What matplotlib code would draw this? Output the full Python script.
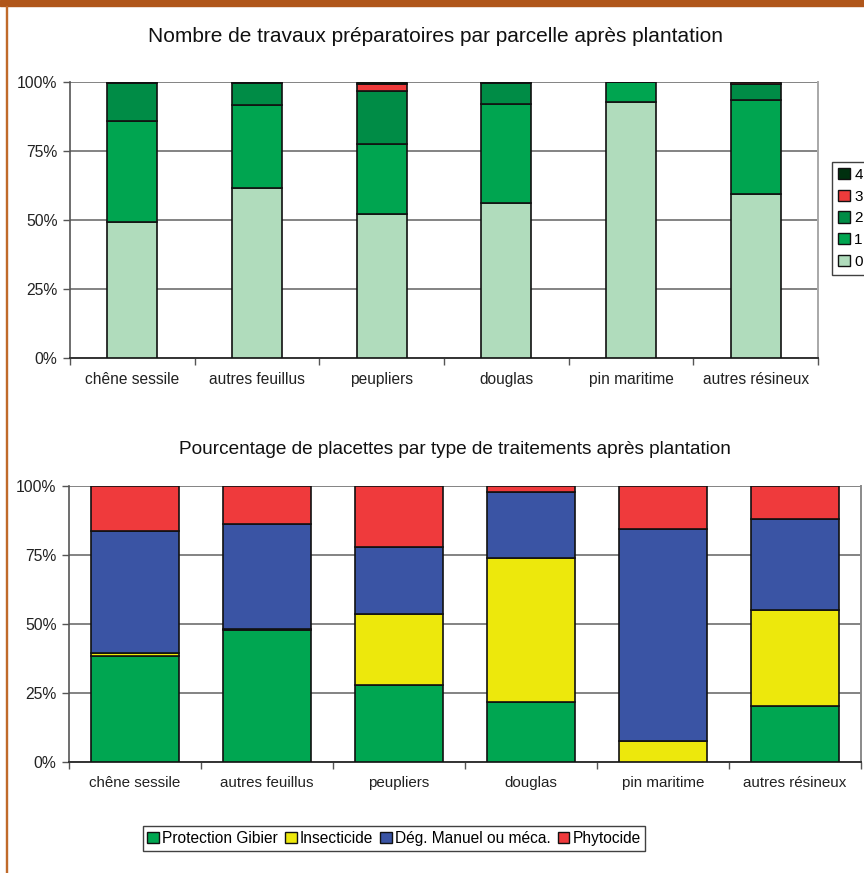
import numpy as np
import matplotlib.pyplot as plt
from matplotlib.patches import Patch, Rectangle

plt.rcParams['font.family'] = ['Liberation Sans', 'DejaVu Sans']

categories = ['chêne sessile', 'autres feuillus', 'peupliers', 'douglas',
              'pin maritime', 'autres résineux']

# nombre de travaux préparatoires (% de parcelles)
trav_labels = ['0', '1', '2', '3', '4']
trav_0 = [49.4, 61.6, 52.1, 56.2, 92.6, 59.4]
trav_1 = [36.5, 29.9, 25.5, 35.9, 7.4, 34.2]
trav_2 = [13.6, 8.2, 19.2, 7.6, 0.0, 5.7]
trav_3 = [0.5, 0.2, 2.5, 0.3, 0.0, 0.7]
trav_4 = [0.0, 0.1, 0.7, 0.0, 0.0, 0.0]
trav_colors = ['#b0dcbc', '#00a550', '#008c46', '#ee3b3b', '#00300f']

# types de traitements après plantation (% de placettes)
trait_labels = ['Protection Gibier', 'Insecticide', 'Dég. Manuel ou méca.', 'Phytocide']
trait_gibier = [38.4, 47.8, 28.0, 21.6, 0.0, 20.4]
trait_insect = [1.1, 0.5, 25.5, 52.2, 7.7, 34.7]
trait_deg = [44.3, 38.0, 24.4, 24.0, 76.8, 33.1]
trait_phyto = [16.2, 13.7, 22.1, 2.2, 15.5, 11.8]
trait_colors = ['#00a651', '#ede80c', '#3a54a4', '#ef3a3c']

W, H = 864, 873
fig = plt.figure(figsize=(W / 100, H / 100), dpi=100)

# cadre orange de la page
fig.patches.append(Rectangle((0, 1 - 6 / H), 1, 6 / H, transform=fig.transFigure,
                             color='#b0561a', zorder=0))
fig.patches.append(Rectangle((5.5 / W, 0), 1.3 / W, 1 - 6 / H, transform=fig.transFigure,
                             color='#c06a2a', zorder=0))


def style_axes(ax, right_color, cat_size):
    ax.set_ylim(0, 100)
    ax.set_xlim(-0.5, len(categories) - 0.5)
    ax.set_yticks([0, 25, 50, 75, 100])
    ax.set_yticklabels(['0%', '25%', '50%', '75%', '100%'], fontsize=11.3, color='#222222')
    ax.set_xticks(np.arange(len(categories)))
    ax.set_xticklabels(categories, fontsize=cat_size, color='#222222')
    ax.tick_params(axis='x', length=0, pad=10)
    ax.set_xticks(np.arange(len(categories) + 1) - 0.5, minor=True)
    ax.tick_params(axis='x', which='minor', length=5, width=1, color='#555555', direction='out')
    ax.tick_params(axis='y', length=5, width=1, color='#555555', direction='out', pad=4)
    ax.grid(axis='y', color='#7a7a7a', linewidth=1.3)
    ax.set_axisbelow(True)
    ax.spines['top'].set_visible(False)
    ax.spines['left'].set_color('#555555')
    ax.spines['bottom'].set_color('#333333')
    ax.spines['left'].set_linewidth(1.2)
    ax.spines['bottom'].set_linewidth(1.4)
    ax.spines['right'].set_color(right_color)
    ax.spines['right'].set_linewidth(1.4)


def stacked(ax, series, colors, width):
    x = np.arange(len(categories))
    bottom = np.zeros(len(categories))
    for vals, col in zip(series, colors):
        vals = np.array(vals)
        ax.bar(x, vals, width, bottom=bottom, color=col, edgecolor='#111111',
               linewidth=1.2, zorder=3)
        bottom += vals


# graphique du haut
ax1 = fig.add_axes([70 / W, 1 - 358 / H, 748 / W, 276 / H])
style_axes(ax1, '#a8a8a8', 11.2)
stacked(ax1, [trav_0, trav_1, trav_2, trav_3, trav_4], trav_colors, 0.4)
fig.text(435 / W, 1 - 36 / H, 'Nombre de travaux préparatoires par parcelle après plantation',
         ha='center', va='center', fontsize=15, color='#111111')

h1 = [Patch(facecolor=c, edgecolor='#111111', linewidth=1) for c in trav_colors][::-1]
leg1 = fig.legend(h1, trav_labels[::-1], loc='upper left',
                  bbox_to_anchor=(832 / W, 1 - 162 / H), fontsize=11,
                  frameon=True, fancybox=False, edgecolor='#111111',
                  handlelength=0.75, handleheight=0.75, handletextpad=0.3,
                  labelspacing=0.5, borderpad=0.4, borderaxespad=0)
leg1.get_frame().set_linewidth(1)

# graphique du bas
ax2 = fig.add_axes([69 / W, 1 - 762 / H, 792 / W, 276 / H])
style_axes(ax2, '#8a8a8a', 10.9)
stacked(ax2, [trait_gibier, trait_insect, trait_deg, trait_phyto], trait_colors, 0.667)
fig.text(455 / W, 1 - 450 / H, 'Pourcentage de placettes par type de traitements après plantation',
         ha='center', va='center', fontsize=13.7, color='#111111')

h2 = [Patch(facecolor=c, edgecolor='#111111', linewidth=1) for c in trait_colors]
leg2 = fig.legend(h2, trait_labels, loc='center', ncol=4,
                  bbox_to_anchor=(394 / W, 1 - 838.5 / H), fontsize=11.2,
                  frameon=True, fancybox=False, edgecolor='#111111',
                  handlelength=0.75, handleheight=0.75, handletextpad=0.2,
                  columnspacing=0.45, borderpad=0.3, borderaxespad=0)
leg2.get_frame().set_linewidth(1)

fig.savefig('out.png', dpi=100)
